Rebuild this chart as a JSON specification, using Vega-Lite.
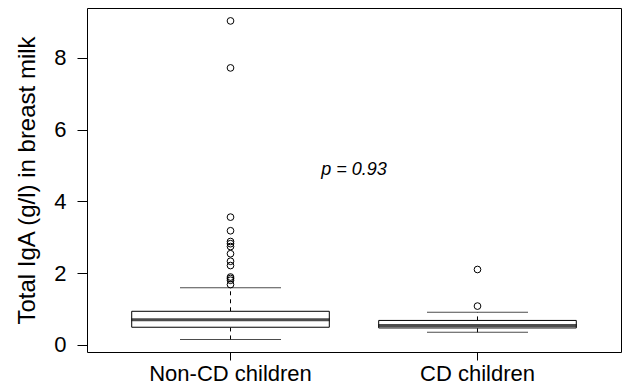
{
  "$schema": "https://vega.github.io/schema/vega-lite/v6.json",
  "width": 534,
  "height": 344,
  "autosize": {"type": "none"},
  "padding": {"left": 87, "top": 8, "right": 17, "bottom": 36},
  "background": "white",
  "config": {
    "view": {"stroke": "black", "strokeWidth": 1},
    "font": "Liberation Sans",
    "axis": {"grid": false, "domain": false, "tickColor": "black", "labelColor": "black", "titleColor": "black", "labelFont": "Liberation Sans", "titleFont": "Liberation Sans", "titleFontWeight": "normal"}
  },
  "datasets": {
    "stats": [
      {"group": "Non-CD children", "lower": 0.15, "q1": 0.49, "median": 0.70, "q3": 0.935, "upper": 1.59},
      {"group": "CD children", "lower": 0.35, "q1": 0.47, "median": 0.54, "q3": 0.68, "upper": 0.91}
    ],
    "outliers": [
      {"group": "Non-CD children", "value": 9.03},
      {"group": "Non-CD children", "value": 7.72},
      {"group": "Non-CD children", "value": 3.56},
      {"group": "Non-CD children", "value": 3.18},
      {"group": "Non-CD children", "value": 2.88},
      {"group": "Non-CD children", "value": 2.82},
      {"group": "Non-CD children", "value": 2.74},
      {"group": "Non-CD children", "value": 2.54},
      {"group": "Non-CD children", "value": 2.33},
      {"group": "Non-CD children", "value": 2.21},
      {"group": "Non-CD children", "value": 1.89},
      {"group": "Non-CD children", "value": 1.85},
      {"group": "Non-CD children", "value": 1.80},
      {"group": "Non-CD children", "value": 1.68},
      {"group": "CD children", "value": 2.10},
      {"group": "CD children", "value": 1.08}
    ],
    "note": [
      {"group": "Non-CD children", "value": 4.88, "label": "p = 0.93"}
    ]
  },
  "encoding": {
    "x": {
      "field": "group",
      "type": "nominal",
      "sort": ["Non-CD children", "CD children"],
      "scale": {"type": "band", "paddingInner": 0, "paddingOuter": 0.081},
      "axis": {"title": null, "labelAngle": 0, "labelFontSize": 22, "tickSize": 8, "labelPadding": 3}
    }
  },
  "layer": [
    {
      "data": {"name": "stats"},
      "mark": {"type": "rule", "color": "black", "strokeWidth": 1, "strokeDash": [4, 4]},
      "encoding": {
        "y": {
          "field": "q3", "type": "quantitative",
          "scale": {"domain": [-0.2, 9.39], "nice": false, "zero": false},
          "axis": {"title": "Total IgA (g/l) in breast milk", "values": [0, 2, 4, 6, 8], "labelFontSize": 22, "titleFontSize": 24, "tickSize": 10, "labelPadding": 11, "titlePadding": 14}
        },
        "y2": {"field": "upper"}
      }
    },
    {
      "data": {"name": "stats"},
      "mark": {"type": "rule", "color": "black", "strokeWidth": 1, "strokeDash": [4, 4]},
      "encoding": {
        "y": {"field": "lower", "type": "quantitative"},
        "y2": {"field": "q1"}
      }
    },
    {
      "data": {"name": "stats"},
      "mark": {"type": "tick", "color": "black", "thickness": 1, "size": 101},
      "encoding": {"y": {"field": "upper", "type": "quantitative"}}
    },
    {
      "data": {"name": "stats"},
      "mark": {"type": "tick", "color": "black", "thickness": 1, "size": 101},
      "encoding": {"y": {"field": "lower", "type": "quantitative"}}
    },
    {
      "data": {"name": "stats"},
      "mark": {"type": "bar", "fill": "white", "stroke": "black", "strokeWidth": 1, "width": {"band": 0.8}},
      "encoding": {
        "y": {"field": "q1", "type": "quantitative"},
        "y2": {"field": "q3"}
      }
    },
    {
      "data": {"name": "stats"},
      "mark": {"type": "tick", "color": "black", "thickness": 3, "size": 198},
      "encoding": {"y": {"field": "median", "type": "quantitative"}}
    },
    {
      "data": {"name": "outliers"},
      "mark": {"type": "point", "shape": "circle", "filled": false, "stroke": "black", "strokeWidth": 1, "size": 45, "opacity": 1},
      "encoding": {"y": {"field": "value", "type": "quantitative"}}
    },
    {
      "data": {"name": "note"},
      "mark": {"type": "text", "font": "Liberation Sans", "fontStyle": "italic", "fontSize": 18, "color": "black", "align": "center", "baseline": "middle"},
      "encoding": {
        "x": {"field": "group", "type": "nominal", "bandPosition": 1},
        "y": {"field": "value", "type": "quantitative"},
        "text": {"field": "label"}
      }
    }
  ]
}
